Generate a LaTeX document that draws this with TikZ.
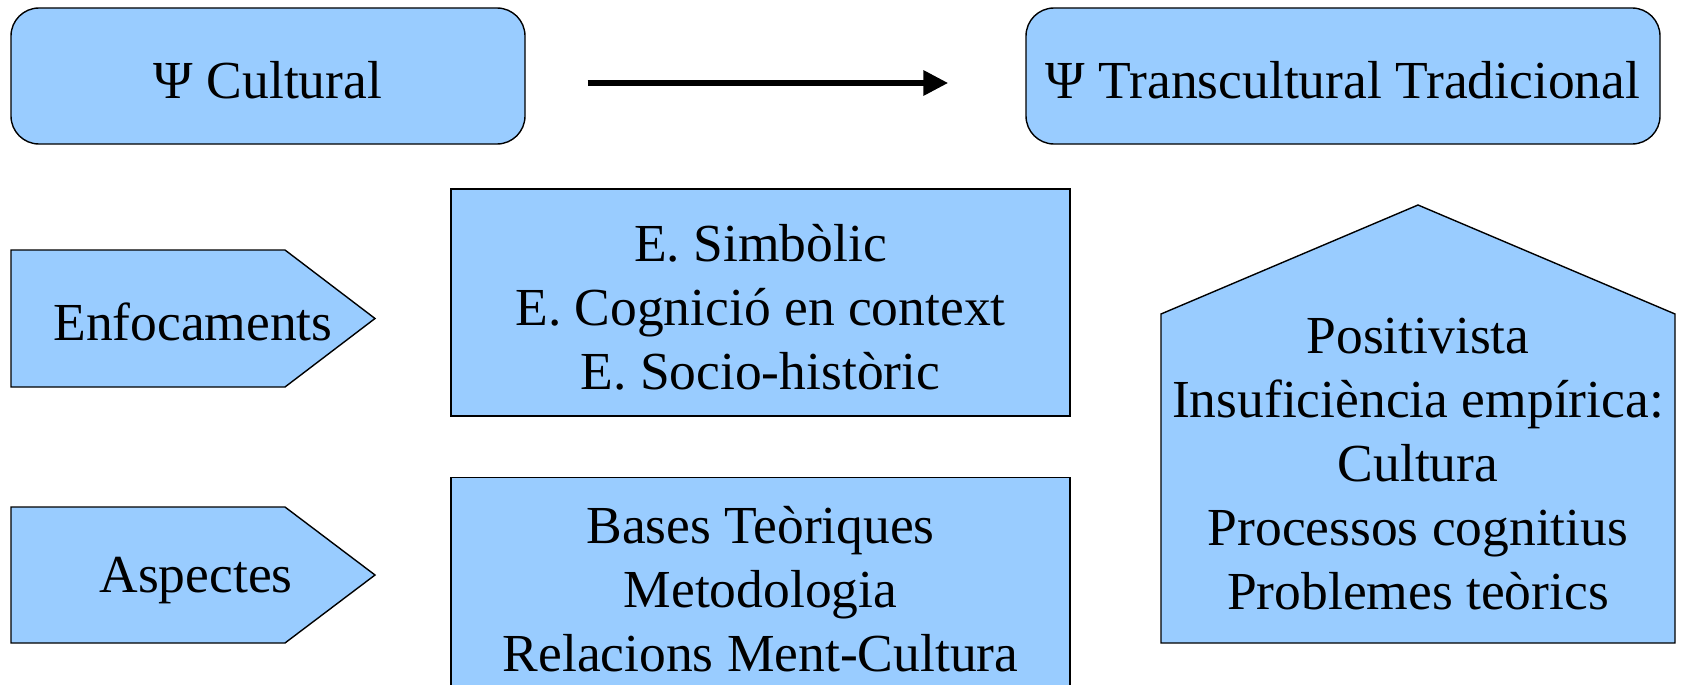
\documentclass[tikz,border=0pt]{standalone}
\usepackage{fontspec}
\setmainfont{Liberation Serif}
\usetikzlibrary{arrows.meta}
\definecolor{boxblue}{HTML}{99CCFF}
\begin{document}
\begin{tikzpicture}[x=1pt,y=-1pt,
  shapebox/.style={draw=black,fill=boxblue,line width=1.4pt},
  txt/.style={font=\fontsize{53.5}{64}\selectfont,align=center,inner sep=0pt},
  bigarrow/.style={-{Triangle[length=25pt,width=24pt]},line width=6.3pt}]
\useasboundingbox (0,0) rectangle (1681,685);
\clip (0,0) rectangle (1681,685);
% top boxes
\node[shapebox,rounded corners=28pt,minimum width=514pt,minimum height=136pt] (cult) at (268,76) {};
\node[txt] (cultt) at (268,80) {Ψ Cultural};
\node[shapebox,rounded corners=28pt,minimum width=634pt,minimum height=136pt] (trans) at (1343,76) {};
\node[txt] (transt) at (1343,80) {Ψ Transcultural Tradicional};
\draw[bigarrow] ([shift={(62,7)}]cult.east) -- ([shift={(-77,7)}]trans.west);
% pentagons
\draw[shapebox] (11,250) -- (285,250) -- (375,318.5) -- (285,387) -- (11,387) -- cycle;
\node[txt] (enf) at (193,322) {Enfocaments};
\draw[shapebox] (11,507) -- (285,507) -- (375,575) -- (285,643) -- (11,643) -- cycle;
\node[txt] (asp) at (196,581) {Aspectes};
% middle boxes
\node[shapebox,minimum width=619pt,minimum height=227pt] (box1) at (760.5,302.5) {};
\node[txt] (box1t) at (760.5,307) {E. Simbòlic\\E. Cognició en context\\E. Socio-històric};
\node[shapebox,minimum width=619pt,minimum height=260pt,anchor=north] (box2) at (760.5,477) {};
\node[txt] (box2t) at (760.5,589) {Bases Teòriques\\Metodologia\\Relacions Ment-Cultura};
% house
\draw[shapebox] (1161,643) -- (1161,314) -- (1418,205) -- (1675,314) -- (1675,643) -- cycle;
\node[txt] (house) at (1418,464) {Positivista\\Insuficiència empírica:\\Cultura\\Processos cognitius\\Problemes teòrics};
\end{tikzpicture}
\end{document}
